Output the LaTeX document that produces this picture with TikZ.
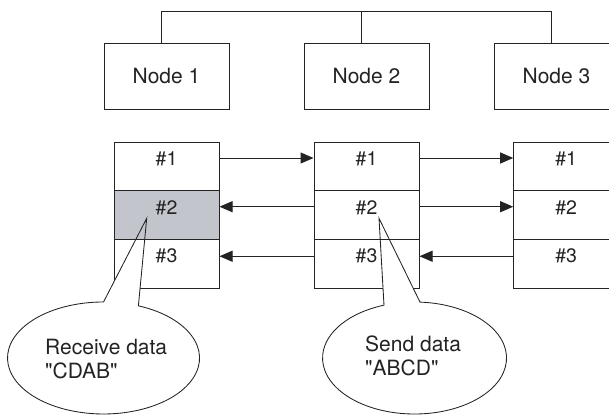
\documentclass[tikz,border=0pt]{standalone}
\usepackage{fontspec}
\setmainfont{TeX Gyre Heros}[Ligatures=TeXOff]
\usetikzlibrary{arrows.meta}
\definecolor{graycell}{RGB}{195,197,204}
\definecolor{ink}{RGB}{35,35,35}
\begin{document}
\begin{tikzpicture}[x=1pt,y=-1pt,
  nodebox/.style={draw=ink, line width=1pt, minimum width=125pt, minimum height=66pt, inner sep=0pt, text=ink, font=\fontsize{21}{24}\selectfont},
  cell/.style={draw=ink, line width=1pt, minimum width=105pt, minimum height=48.7pt, inner sep=0pt},
  lbl/.style={anchor=base, inner sep=0pt, text=ink, font=\fontsize{19.5}{22}\selectfont},
  arr/.style={draw=ink, line width=1pt, -{Triangle[length=13pt,width=11pt]}},
  bus/.style={draw=ink, line width=1pt},
  callout/.style={draw=ink, line width=0.85pt},
  ctext/.style={anchor=base west, inner sep=0pt, text=ink, font=\fontsize{21}{24}\selectfont}]
\useasboundingbox (0,0) rectangle (609,416);

% top nodes
\node[nodebox] (node1) at (166.5,76) {Node 1};
\node[nodebox] (node2) at (366.5,76) {Node 2};
\node[nodebox] (node3) at (556.5,76) {Node 3};

% bus
\coordinate (b1) at (161.7,11);
\coordinate (b2) at (361.7,11);
\coordinate (b3) at (551.5,11);
\draw[bus] (b1 |- node1.north) -- (b1) -- (b3) -- (b3 |- node3.north);
\draw[bus] (b2) -- (b2 |- node2.north);

% stacks
\node[cell] (L1) at (166.5,166.35) {};
\node[cell, fill=graycell] (L2) at (166.5,215.05) {};
\node[cell] (L3) at (166.5,263.75) {};
\node[cell] (M1) at (366.5,166.35) {};
\node[cell] (M2) at (366.5,215.05) {};
\node[cell] (M3) at (366.5,263.75) {};
\node[cell] (R1) at (566.2,166.35) {};
\node[cell] (R2) at (566.2,215.05) {};
\node[cell] (R3) at (566.2,263.75) {};

% callout white fill (below the row dividers)
\begin{scope}
\clip (0,243) rectangle (609,416);
\fill[white] (146.7,218.3) -- (138.4,305.8) arc[start angle=68.7, end angle=-270, x radius=96pt, y radius=56pt] -- cycle;
\fill[white] (379,218.3) -- (420.0,302.1) arc[start angle=86.6, end angle=-250.6, x radius=92pt, y radius=56pt] -- cycle;
\end{scope}

% labels
\foreach \s in {L,M,R}{
  \node[lbl] (t\s1) at ([yshift=-24pt]\s1.north) {\#1};
  \node[lbl] (t\s2) at ([yshift=-24pt]\s2.north) {\#2};
  \node[lbl] (t\s3) at ([yshift=-24pt]\s3.north) {\#3};
}

% arrows
\draw[arr] ([yshift=8.35pt]L1.east) -- ([yshift=8.35pt]M1.west);
\draw[arr] ([yshift=8.35pt]M1.east) -- ([yshift=8.35pt]R1.west);
\draw[arr] ([yshift=8.35pt]M2.west) -- ([yshift=8.35pt]L2.east);
\draw[arr] ([yshift=8.35pt]M2.east) -- ([yshift=8.35pt]R2.west);
\draw[arr] ([yshift=7.5pt]M3.west) -- ([yshift=7.5pt]L3.east);
\draw[arr] ([yshift=7.5pt]R3.west) -- ([yshift=7.5pt]M3.east);

% callouts
\coordinate (tipL) at (146.7,218.3);
\coordinate (tipM) at (379,218.3);
\draw[callout] (tipL) -- (138.4,305.8) arc[start angle=68.7, end angle=-270, x radius=96pt, y radius=56pt] -- cycle;
\draw[callout] (tipM) -- (420.0,302.1) arc[start angle=86.6, end angle=-250.6, x radius=92pt, y radius=56pt] -- cycle;

\node[ctext] (rcv1) at (45,354) {Receive data};
\node[ctext] (rcv2) at (45,378) {"CDAB"};
\node[ctext] (snd1) at (365,351) {Send data};
\node[ctext] (snd2) at (365,375) {"ABCD"};
\end{tikzpicture}
\end{document}
